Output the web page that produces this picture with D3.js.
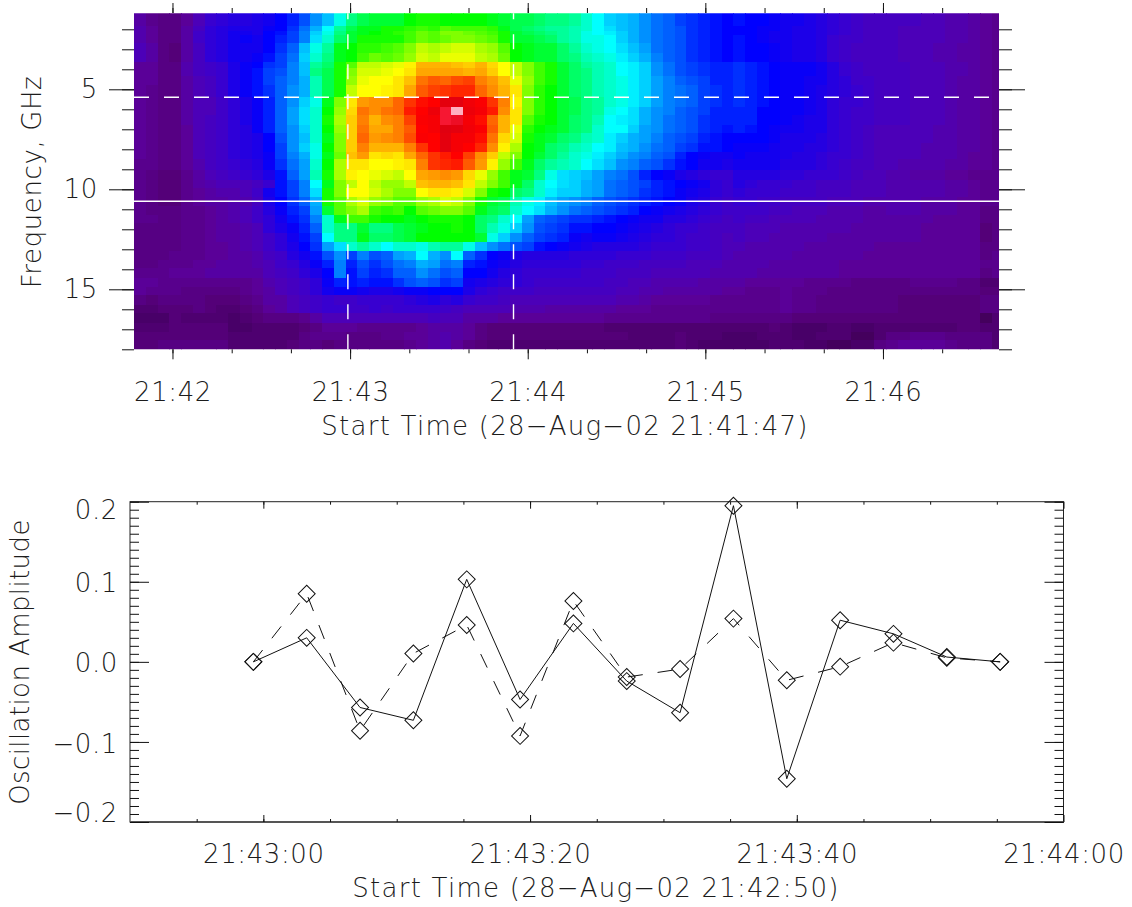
<!DOCTYPE html>
<html>
<head>
<meta charset="utf-8">
<script src="https://cdn.jsdelivr.net/npm/d3@7"></script>
<style>
    html, body { margin: 0; background: #fff; }
    svg { display: block; }
    text { font-family: "DejaVu Sans", sans-serif; font-weight: 200; font-size: 26px; fill: #1c1c1c; }
    .tick text { letter-spacing: 0.6px; }
</style>
</head>
<body>
<div id="chart"></div>
<script>
// Spectrogram: channel edges in GHz, one row of intensity (0-100) per channel, 4 s columns
const freqEdges = [1.2, 1.85, 2.1, 2.3, 2.7, 3.2, 3.65, 3.95, 4.35, 4.8, 5.4, 5.9, 6.3, 6.8, 7.2, 7.7, 8.15, 8.5, 9.05, 9.55,
    9.95, 10.4, 10.85, 11.3, 11.7, 12.2, 12.65, 13.1, 13.55, 13.95, 14.45, 14.9, 15.3, 15.8, 16.2, 16.7, 17.15, 17.55, 18.0];

const heatRows = [
[9,7,6,6,8,11,14,15,16,16,17,18,20,22,25,29,32,37,41,43,44,44,44,46,47,47,46,46,46,46,45,44,43,43,42,41,41,40,38,36,33,32,31,29,27,26,24,23,22,21,20,21,20,20,19,18,18,17,16,15,14,13,12,12,12,12,12,11,11,10,10,9,8,7],
[10,8,6,6,9,12,15,16,17,17,17,19,20,23,27,31,36,40,43,45,45,47,47,48,49,48,50,49,49,49,48,45,43,42,41,40,40,39,38,36,34,32,31,29,27,26,25,23,22,21,20,20,20,19,19,18,17,17,16,15,14,13,12,12,12,11,11,11,11,10,10,9,8,7],
[10,8,6,6,9,13,15,16,18,18,17,20,21,24,28,33,37,41,44,45,46,47,48,49,51,50,52,52,51,50,49,47,44,43,42,41,40,39,37,36,35,33,31,29,27,26,25,23,22,21,20,20,20,19,18,18,17,17,16,15,14,13,12,12,12,11,11,11,11,10,10,9,8,7],
[10,8,6,6,9,13,15,16,18,19,18,20,22,24,28,34,38,42,44,47,47,47,47,49,51,50,51,52,52,51,50,47,44,44,43,42,40,39,37,37,36,33,31,29,27,26,25,23,22,21,20,21,20,19,18,18,17,17,16,14,13,13,12,12,12,11,11,11,11,10,10,9,8,7],
[11,9,6,5,9,12,15,16,18,18,18,20,23,26,32,37,40,45,46,48,48,49,50,52,55,54,55,56,56,54,53,50,46,45,44,44,42,40,38,37,36,34,32,30,27,26,25,23,22,21,20,21,20,20,19,18,17,17,16,14,13,12,12,12,12,11,11,11,10,10,9,9,8,7],
[11,9,6,5,9,12,15,16,18,18,19,21,24,27,33,38,41,45,46,49,51,50,51,53,56,55,57,57,57,55,54,51,46,45,44,44,42,41,39,38,37,35,33,31,28,26,25,23,22,21,20,21,20,20,19,18,17,17,16,14,13,12,12,12,12,11,11,11,10,10,9,9,8,7],
[8,8,6,6,10,12,13,14,17,19,20,23,24,28,32,40,42,47,50,55,55,56,57,59,64,64,64,63,62,64,61,58,55,52,49,47,44,42,40,39,38,36,35,33,29,27,25,24,23,22,22,23,22,21,20,19,19,19,18,16,14,13,12,12,12,12,11,11,11,10,10,9,8,7],
[8,8,6,6,10,12,13,14,17,19,21,24,25,28,32,41,43,47,52,56,56,57,58,60,65,65,65,65,64,65,62,58,55,52,49,47,44,42,41,39,38,36,35,33,29,27,25,24,23,22,22,23,22,21,20,19,19,19,18,16,14,13,12,12,12,12,11,11,11,10,10,9,8,7],
[8,8,6,6,9,11,12,14,17,19,21,24,26,28,31,39,43,47,53,57,58,58,60,63,69,71,70,72,73,68,66,63,57,53,49,47,44,42,41,39,38,37,35,33,30,28,26,25,24,22,22,23,22,21,20,19,19,18,18,16,15,13,13,12,12,12,11,11,11,10,9,9,8,7],
[8,7,6,6,9,11,12,14,17,19,21,23,26,29,31,39,43,47,55,58,58,59,60,65,71,73,74,75,75,70,67,64,60,52,48,46,44,42,41,39,38,37,35,33,30,28,27,26,24,23,22,23,22,21,20,19,19,18,17,16,15,14,13,12,12,12,11,11,11,10,9,9,8,7],
[8,7,6,6,9,11,11,13,15,17,19,22,26,29,33,37,45,52,60,66,67,67,70,74,77,78,84,84,81,79,74,68,59,52,48,46,44,43,41,40,38,37,35,33,30,28,27,26,24,23,22,23,22,21,20,19,19,18,17,15,14,14,13,12,12,12,11,11,11,10,9,9,8,7],
[8,7,6,6,9,11,11,13,15,17,19,22,26,30,34,38,46,53,61,69,67,69,70,76,78,82,90,100,82,80,76,67,60,52,48,46,44,43,41,40,37,36,34,31,29,28,26,25,24,22,22,22,22,20,20,19,19,18,17,15,14,13,13,12,12,12,11,11,11,10,9,9,8,7],
[8,7,6,6,9,11,12,13,15,17,19,22,26,30,34,38,47,54,62,68,64,67,68,73,79,80,90,88,80,77,70,64,60,50,47,46,44,42,41,39,36,35,34,31,29,27,26,25,23,22,22,22,22,20,20,19,18,17,17,15,14,13,13,12,12,12,11,11,11,10,9,9,8,7],
[8,7,6,6,8,11,12,13,15,16,19,22,26,29,33,38,46,53,62,69,65,65,68,71,78,80,85,84,81,79,71,64,57,48,46,45,44,42,41,38,36,36,33,30,29,27,26,25,23,22,21,22,21,20,19,18,18,17,17,15,14,13,12,11,11,11,11,11,10,10,9,9,8,7],
[8,7,6,6,8,11,12,13,15,16,17,20,25,29,32,38,45,52,62,70,66,67,68,72,79,78,84,80,80,77,69,61,56,47,45,44,42,41,39,38,35,33,31,30,28,26,25,24,22,21,20,20,20,20,19,17,17,17,16,15,14,13,12,11,11,11,11,11,10,10,9,9,8,7],
[8,7,6,6,8,11,12,13,15,16,17,20,24,29,33,37,46,52,62,68,64,64,64,68,74,78,84,80,78,75,67,59,54,46,45,42,41,39,38,36,35,32,31,29,27,26,24,23,21,21,20,19,19,19,18,17,17,16,16,15,14,13,12,11,11,11,11,10,10,10,9,9,8,7],
[8,7,6,6,8,11,12,13,15,16,17,19,24,28,31,37,45,51,63,66,60,61,60,65,70,74,76,78,73,67,62,55,52,46,44,42,40,38,37,35,33,31,29,28,26,25,22,20,19,18,18,19,18,18,18,17,16,16,15,14,14,13,12,11,11,11,11,10,10,10,9,8,8,7],
[7,7,6,6,8,10,12,13,14,15,16,19,23,27,30,38,46,54,60,60,58,58,59,60,68,74,75,76,71,66,59,53,49,45,42,40,39,38,36,34,32,29,28,26,25,23,21,20,18,18,17,18,18,18,18,16,16,16,15,14,13,12,12,11,11,10,10,10,10,9,9,8,8,7],
[7,6,5,5,7,9,11,12,13,14,15,17,21,26,30,39,47,54,59,58,57,56,55,58,65,66,67,66,61,57,53,49,45,44,41,37,34,33,32,30,28,27,25,22,20,19,17,16,15,14,14,16,16,16,16,15,15,14,14,14,13,12,11,11,10,10,9,9,9,8,8,7,7,7],
[7,6,5,5,7,9,10,11,11,11,12,14,21,24,28,36,45,52,55,58,55,53,53,55,63,64,64,63,60,55,52,49,45,42,38,36,34,33,31,30,27,26,25,24,22,21,20,19,18,15,14,16,15,14,14,14,13,13,12,12,12,11,11,11,10,10,10,10,10,9,9,8,7,7],
[7,6,5,5,7,8,9,10,10,11,13,18,21,24,28,34,47,52,58,58,56,54,52,52,58,60,60,59,56,52,47,46,42,41,38,35,33,33,31,30,27,26,25,23,22,21,19,18,17,15,14,15,14,14,14,13,13,13,12,12,12,11,11,11,10,10,10,10,10,9,9,8,7,7],
[7,6,5,5,7,8,9,9,10,10,12,17,20,23,26,31,47,50,54,56,53,52,50,50,53,54,56,55,52,47,44,43,39,37,35,32,30,29,28,26,25,24,23,22,21,20,19,17,16,14,13,14,14,13,13,12,12,12,12,11,11,11,10,10,10,10,10,9,9,9,8,8,7,7],
[7,6,6,6,7,7,8,9,10,11,13,16,19,22,24,30,44,50,52,54,49,48,49,46,50,51,52,52,50,45,43,42,38,36,34,31,29,27,26,25,24,23,22,20,19,18,17,16,15,14,13,13,13,13,12,12,11,11,11,10,10,10,9,9,10,10,10,9,9,9,8,8,6,6],
[7,7,6,6,7,7,8,9,10,11,13,15,18,21,23,28,38,45,49,49,47,46,46,45,46,47,47,47,46,42,41,38,36,30,26,25,24,23,23,22,21,20,19,18,18,16,16,15,14,13,12,13,12,12,11,11,11,11,10,10,10,10,9,9,9,9,9,9,8,8,8,8,6,6],
[6,6,6,6,7,7,8,9,9,10,11,15,17,19,22,26,38,41,41,44,41,41,43,44,45,46,46,47,46,42,39,37,33,29,25,24,23,21,21,20,20,19,18,17,16,15,14,14,13,12,12,12,11,11,11,10,10,10,10,10,10,9,9,9,9,9,9,8,8,8,8,8,5,6],
[6,6,6,6,7,7,8,9,9,10,11,13,15,18,21,24,36,41,41,45,42,42,43,44,46,46,46,46,46,44,37,33,29,26,24,23,22,19,18,19,19,18,17,16,15,15,14,13,13,12,11,12,11,11,10,10,10,10,10,9,9,9,9,9,9,9,9,8,8,8,8,8,5,6],
[6,6,6,6,7,7,8,8,9,10,11,13,15,17,20,23,30,34,38,40,38,36,38,38,37,39,40,40,37,32,29,27,25,24,21,20,19,18,17,16,16,16,16,15,14,14,14,13,13,12,11,11,10,10,10,10,10,9,9,9,9,9,9,8,8,8,8,8,8,8,8,8,6,6],
[6,6,6,7,7,7,8,8,9,9,10,12,13,16,18,21,25,29,24,28,25,26,30,31,36,31,29,36,26,23,20,19,17,16,16,16,16,15,15,15,15,14,14,14,13,13,13,12,12,12,11,10,10,10,10,10,9,9,9,9,9,9,8,8,8,8,8,8,8,8,8,8,6,7],
[6,6,7,7,7,8,8,9,9,9,10,11,13,14,16,19,22,28,22,25,23,25,27,28,31,30,27,28,22,21,19,18,16,15,15,15,15,15,14,14,13,13,13,12,12,12,12,11,11,11,10,10,10,10,9,9,9,9,9,9,8,8,8,8,8,8,8,8,8,8,8,8,7,7],
[7,7,7,8,8,8,9,9,9,9,9,11,12,13,15,17,20,28,21,24,22,23,26,26,29,27,25,26,20,20,18,16,15,14,14,14,14,14,13,13,13,12,12,12,11,11,11,11,11,10,10,10,10,9,9,9,9,9,9,9,8,8,8,8,8,8,8,8,8,8,8,8,6,7],
[8,8,7,7,7,7,7,7,7,7,8,10,11,12,13,15,19,22,21,22,21,21,23,25,26,25,23,24,18,17,16,15,15,14,13,13,13,13,13,13,12,12,11,11,10,10,10,10,9,9,9,9,8,8,8,8,8,7,7,7,7,6,6,6,6,6,7,7,7,7,6,6,4,4],
[8,7,7,7,6,6,6,6,6,7,8,9,11,12,13,15,18,19,19,18,17,17,18,19,19,20,20,20,17,15,14,13,13,13,12,12,12,12,12,12,12,11,11,10,10,9,9,9,9,9,8,8,7,7,7,8,7,7,7,6,6,6,6,6,6,6,6,6,6,6,6,6,5,5],
[6,5,6,6,6,6,5,5,5,6,7,9,9,11,12,13,14,13,13,14,14,14,14,15,16,17,15,16,14,13,13,12,11,11,11,11,11,11,11,11,11,10,10,9,8,8,8,8,8,7,7,7,7,7,7,8,7,7,6,6,6,6,6,6,6,5,5,5,5,5,5,5,6,6],
[4,4,5,5,5,6,5,4,4,5,6,8,9,11,12,13,14,14,13,13,14,13,14,14,14,14,13,12,11,11,11,11,10,10,10,9,9,9,9,9,9,8,8,8,7,7,7,7,7,7,7,7,7,7,7,8,7,7,6,6,6,6,6,6,6,5,5,5,5,5,5,5,6,6],
[3,3,3,5,4,4,4,4,3,4,5,6,6,6,7,9,11,11,11,11,11,11,11,11,11,12,11,11,9,9,9,8,8,8,8,8,8,8,8,8,7,7,7,7,7,7,7,7,7,6,6,6,6,6,6,6,5,5,5,5,5,5,5,5,5,5,5,5,5,5,5,5,2,4],
[4,4,4,5,5,5,5,5,3,3,4,4,4,4,5,6,8,8,8,7,7,7,7,7,8,9,9,9,8,6,5,5,5,5,5,5,5,5,5,5,4,4,4,4,4,4,4,4,4,4,4,4,4,4,5,4,3,3,3,4,4,3,3,4,4,4,4,4,4,4,5,5,4,4],
[5,5,5,5,5,5,5,5,4,4,4,4,4,4,6,7,7,7,6,6,6,7,7,8,8,9,10,9,8,6,5,5,5,5,5,5,5,5,5,5,5,5,4,4,4,4,5,4,4,4,3,3,3,4,4,4,3,3,4,4,4,2,2,4,6,6,7,7,7,6,6,6,6,4],
[5,5,6,6,6,6,6,6,4,4,4,4,4,5,6,6,5,6,6,6,6,6,6,7,8,9,10,8,6,5,4,4,4,4,4,4,4,4,4,4,4,4,4,4,4,4,5,4,3,3,3,3,3,3,4,4,4,3,3,2,2,3,3,6,7,8,8,8,8,7,6,6,6,4]
];

const colStart = [21, 41, 47];       // h, m, s of the first spectrogram column
const colStepSec = 3.97;
const colourStops = [0, 3, 5, 8, 11, 14, 20, 25, 30, 36, 41, 46, 52, 58, 63, 68, 73, 78, 85, 92, 100];
const colourValues = ["#3c0048", "#480068", "#540078", "#5a0098", "#4c00b8", "#3800d0", "#0000ff", "#0050ff", "#00a0ff", "#00ffff", "#00ff80",
    "#00ff00", "#80ff00", "#ffff00", "#ffc000", "#ff8000", "#ff4000", "#ff0000", "#e00010", "#ff2040", "#ffb0c0"];

// Markers on the spectrogram
const markFreqDashed = 5.4;
const markFreqSolid = 10.6;
const markTimes = [[21, 42, 59.25], [21, 43, 55.2]];

// Oscillation amplitude, one sample every 4 s
const sampleStart = [21, 42, 59.25];
const sampleStepSec = 4;
const ampSolid = [0, 0.030, -0.057, -0.073, 0.103, -0.047, 0.048, -0.024, -0.0635, 0.195, -0.146, 0.052, 0.035, 0.006, 0];
const ampDashed = [0, 0.085, -0.086, 0.0105, 0.046, -0.0925, 0.076, -0.019, -0.009, 0.054, -0.023, -0.006, 0.024, 0.005, 0];

const freqMajor = [5, 10, 15];
const ampMajor = [-0.2, -0.1, 0, 0.1, 0.2];
const topTitle = "Start Time (28\u2212Aug\u221202 21:41:47)";
const bottomTitle = "Start Time (28\u2212Aug\u221202 21:42:50)";

// Zeit als UTC-Date
const utc = (h, m, s) => new Date(Date.UTC(2002, 7, 28, h, m, Math.floor(s), (s % 1) * 1000));
const addSec = (d, s) => new Date(d.getTime() + s * 1000);

const svg = d3.select("#chart").append("svg").attr("width", 1132).attr("height", 907);

// ---- Spectrogram ----
const xTop = d3.scaleUtc().domain([utc(21, 41, 47), utc(21, 46, 39.2)]).range([134, 999]);
const yTop = d3.scaleLinear().domain([5, 10]).range([89.3, 189.3]);
const colour = d3.scaleLinear().domain(colourStops).range(colourValues);

svg.append("defs").append("clipPath").attr("id", "imgClip").append("rect")
    .attr("x", 134).attr("y", yTop(freqEdges[0]))
    .attr("width", 865).attr("height", yTop(18) - yTop(freqEdges[0]));

const t0 = utc(...colStart);
svg.append("g").attr("clip-path", "url(#imgClip)").attr("shape-rendering", "crispEdges")
    .selectAll("g")
    .data(heatRows)
    .join("g")
    .each(function (row, r) {
        d3.select(this).selectAll("rect")
            .data(row)
            .join("rect")
            .attr("x", (v, c) => xTop(addSec(t0, c * colStepSec)))
            .attr("y", yTop(freqEdges[r]))
            .attr("width", (v, c) => xTop(addSec(t0, (c + 1) * colStepSec)) - xTop(addSec(t0, c * colStepSec)) + 0.5)
            .attr("height", yTop(freqEdges[r + 1]) - yTop(freqEdges[r]) + 0.5)
            .attr("fill", v => colour(v));
    });

// Markierungslinien
svg.append("line").attr("x1", 134).attr("x2", 999)
    .attr("y1", yTop(markFreqDashed)).attr("y2", yTop(markFreqDashed))
    .attr("stroke", "#fff").attr("stroke-width", 1.4).attr("stroke-dasharray", "15 15");
svg.append("line").attr("x1", 134).attr("x2", 999)
    .attr("y1", yTop(markFreqSolid)).attr("y2", yTop(markFreqSolid))
    .attr("stroke", "#fff").attr("stroke-width", 1.4);
svg.selectAll(".markTime")
    .data(markTimes)
    .join("line")
    .attr("class", "markTime")
    .attr("x1", d => xTop(utc(...d))).attr("x2", d => xTop(utc(...d)))
    .attr("y1", yTop(18)).attr("y2", yTop(freqEdges[0]))
    .attr("stroke", "#fff").attr("stroke-width", 1.4).attr("stroke-dasharray", "15 15");

// Ticks: nur Striche, Beschriftung separat ueber tickFormat
function styleAxis(sel) {
    sel.select(".domain").remove();
    sel.selectAll(".tick line").attr("stroke", "#111").attr("stroke-width", 1);
    sel.selectAll("text").attr("fill", "#1c1c1c").attr("font-size", 26).attr("font-family", null);
    return sel;
}

const hm = d3.utcFormat("%H:%M");
const hms = d3.utcFormat("%H:%M:%S");
const topMajorTimes = d3.utcMinute.every(1).range(utc(21, 42, 0), utc(21, 47, 0));
const topMinorTimes = d3.utcSecond.every(20).range(utc(21, 41, 50), utc(21, 46, 40));
const freqMinor = d3.range(2, 19);

const topAxis = (gen, y) => svg.append("g").attr("transform", `translate(0,${y})`).call(gen).call(styleAxis);
const sideAxis = (gen, x) => svg.append("g").attr("transform", `translate(${x},0)`).call(gen).call(styleAxis);

topAxis(d3.axisBottom(xTop).tickValues(topMinorTimes).tickSize(4).tickFormat(""), 349.3);
topAxis(d3.axisBottom(xTop).tickValues(topMajorTimes).tickSize(10).tickPadding(23).tickFormat(hm), 349.3);
topAxis(d3.axisTop(xTop).tickValues(topMinorTimes).tickSize(5).tickFormat(""), 13);
topAxis(d3.axisTop(xTop).tickValues(topMajorTimes).tickSize(10).tickFormat(""), 13);
sideAxis(d3.axisLeft(yTop).tickValues(freqMinor).tickSize(12).tickFormat(""), 134);
sideAxis(d3.axisLeft(yTop).tickValues(freqMajor).tickSize(25).tickPadding(11).tickFormat(d3.format("d")), 134);
sideAxis(d3.axisRight(yTop).tickValues(freqMinor).tickSize(13).tickFormat(""), 999);
sideAxis(d3.axisRight(yTop).tickValues(freqMajor).tickSize(26).tickFormat(""), 999);

svg.append("text").attr("x", 565).attr("y", 435).attr("text-anchor", "middle")
    .style("letter-spacing", "1.25px").text(topTitle);
svg.append("text").attr("transform", "translate(41,182) rotate(-90)").attr("text-anchor", "middle")
    .style("letter-spacing", "0.6px").text("Frequency, GHz");

// ---- Oscillation amplitude ----
const xBot = d3.scaleUtc().domain([utc(21, 42, 50), utc(21, 44, 0)]).range([130, 1063.5]);
const yBot = d3.scaleLinear().domain([-0.2, 0.2]).range([822, 501.7]);

svg.append("rect").attr("x", 130).attr("y", 501.7).attr("width", 933.5).attr("height", 320.3)
    .attr("fill", "none").attr("stroke", "#222").attr("stroke-width", 1);
svg.append("line").attr("x1", 130).attr("x2", 1063.5).attr("y1", 822).attr("y2", 822)
    .attr("stroke", "#555").attr("stroke-width", 2);

const botMajorTimes = d3.utcSecond.every(20).range(utc(21, 43, 0), utc(21, 44, 1));
const botMinorTimes = d3.utcSecond.every(5).range(utc(21, 42, 55), utc(21, 44, 0));
const ampMinor = d3.range(-20, 21).map(d => d / 100);

topAxis(d3.axisBottom(xBot).tickValues(botMinorTimes).tickSize(-3).tickFormat(""), 822);
topAxis(d3.axisBottom(xBot).tickValues(botMajorTimes).tickSize(-7).tickPadding(23).tickFormat(hms), 822);
topAxis(d3.axisTop(xBot).tickValues(botMinorTimes).tickSize(-3).tickFormat(""), 501.7);
topAxis(d3.axisTop(xBot).tickValues(botMajorTimes).tickSize(-7).tickFormat(""), 501.7);
sideAxis(d3.axisLeft(yBot).tickValues(ampMinor).tickSize(-9).tickFormat(""), 130);
sideAxis(d3.axisLeft(yBot).tickValues(ampMajor).tickSize(-19).tickPadding(12).tickFormat(d3.format(".1f")), 130)
    // die aeusseren Beschriftungen sitzen im Original innerhalb des Rahmens
    .selectAll(".tick text").attr("dy", d => Math.abs(d) === 0.2 ? (d > 0 ? "0.66em" : "-0.02em") : "0.39em");
sideAxis(d3.axisRight(yBot).tickValues(ampMinor).tickSize(-9).tickFormat(""), 1063.5);
sideAxis(d3.axisRight(yBot).tickValues(ampMajor).tickSize(-19).tickFormat(""), 1063.5);

const sampleTime = i => addSec(utc(...sampleStart), i * sampleStepSec);
const ampLine = d3.line().x((d, i) => xBot(sampleTime(i))).y(d => yBot(d));
const diamond = d3.symbol(d3.symbolSquare, 144);

function drawSeries(values, dash) {
    svg.append("path").datum(values).attr("d", ampLine)
        .attr("fill", "none").attr("stroke", "#111").attr("stroke-width", 1)
        .attr("stroke-dasharray", dash);
    svg.append("g").selectAll("path")
        .data(values)
        .join("path")
        .attr("d", diamond)
        .attr("transform", (d, i) => `translate(${xBot(sampleTime(i))},${yBot(d)}) rotate(45)`)
        .attr("fill", "none").attr("stroke", "#111").attr("stroke-width", 1);
}
drawSeries(ampSolid, null);
drawSeries(ampDashed, "15 15");

svg.append("text").attr("x", 596).attr("y", 897).attr("text-anchor", "middle")
    .style("letter-spacing", "1.25px").text(bottomTitle);
svg.append("text").attr("transform", "translate(29,662) rotate(-90)").attr("text-anchor", "middle")
    .style("letter-spacing", "0.4px").text("Oscillation Amplitude");
</script>
</body>
</html>
